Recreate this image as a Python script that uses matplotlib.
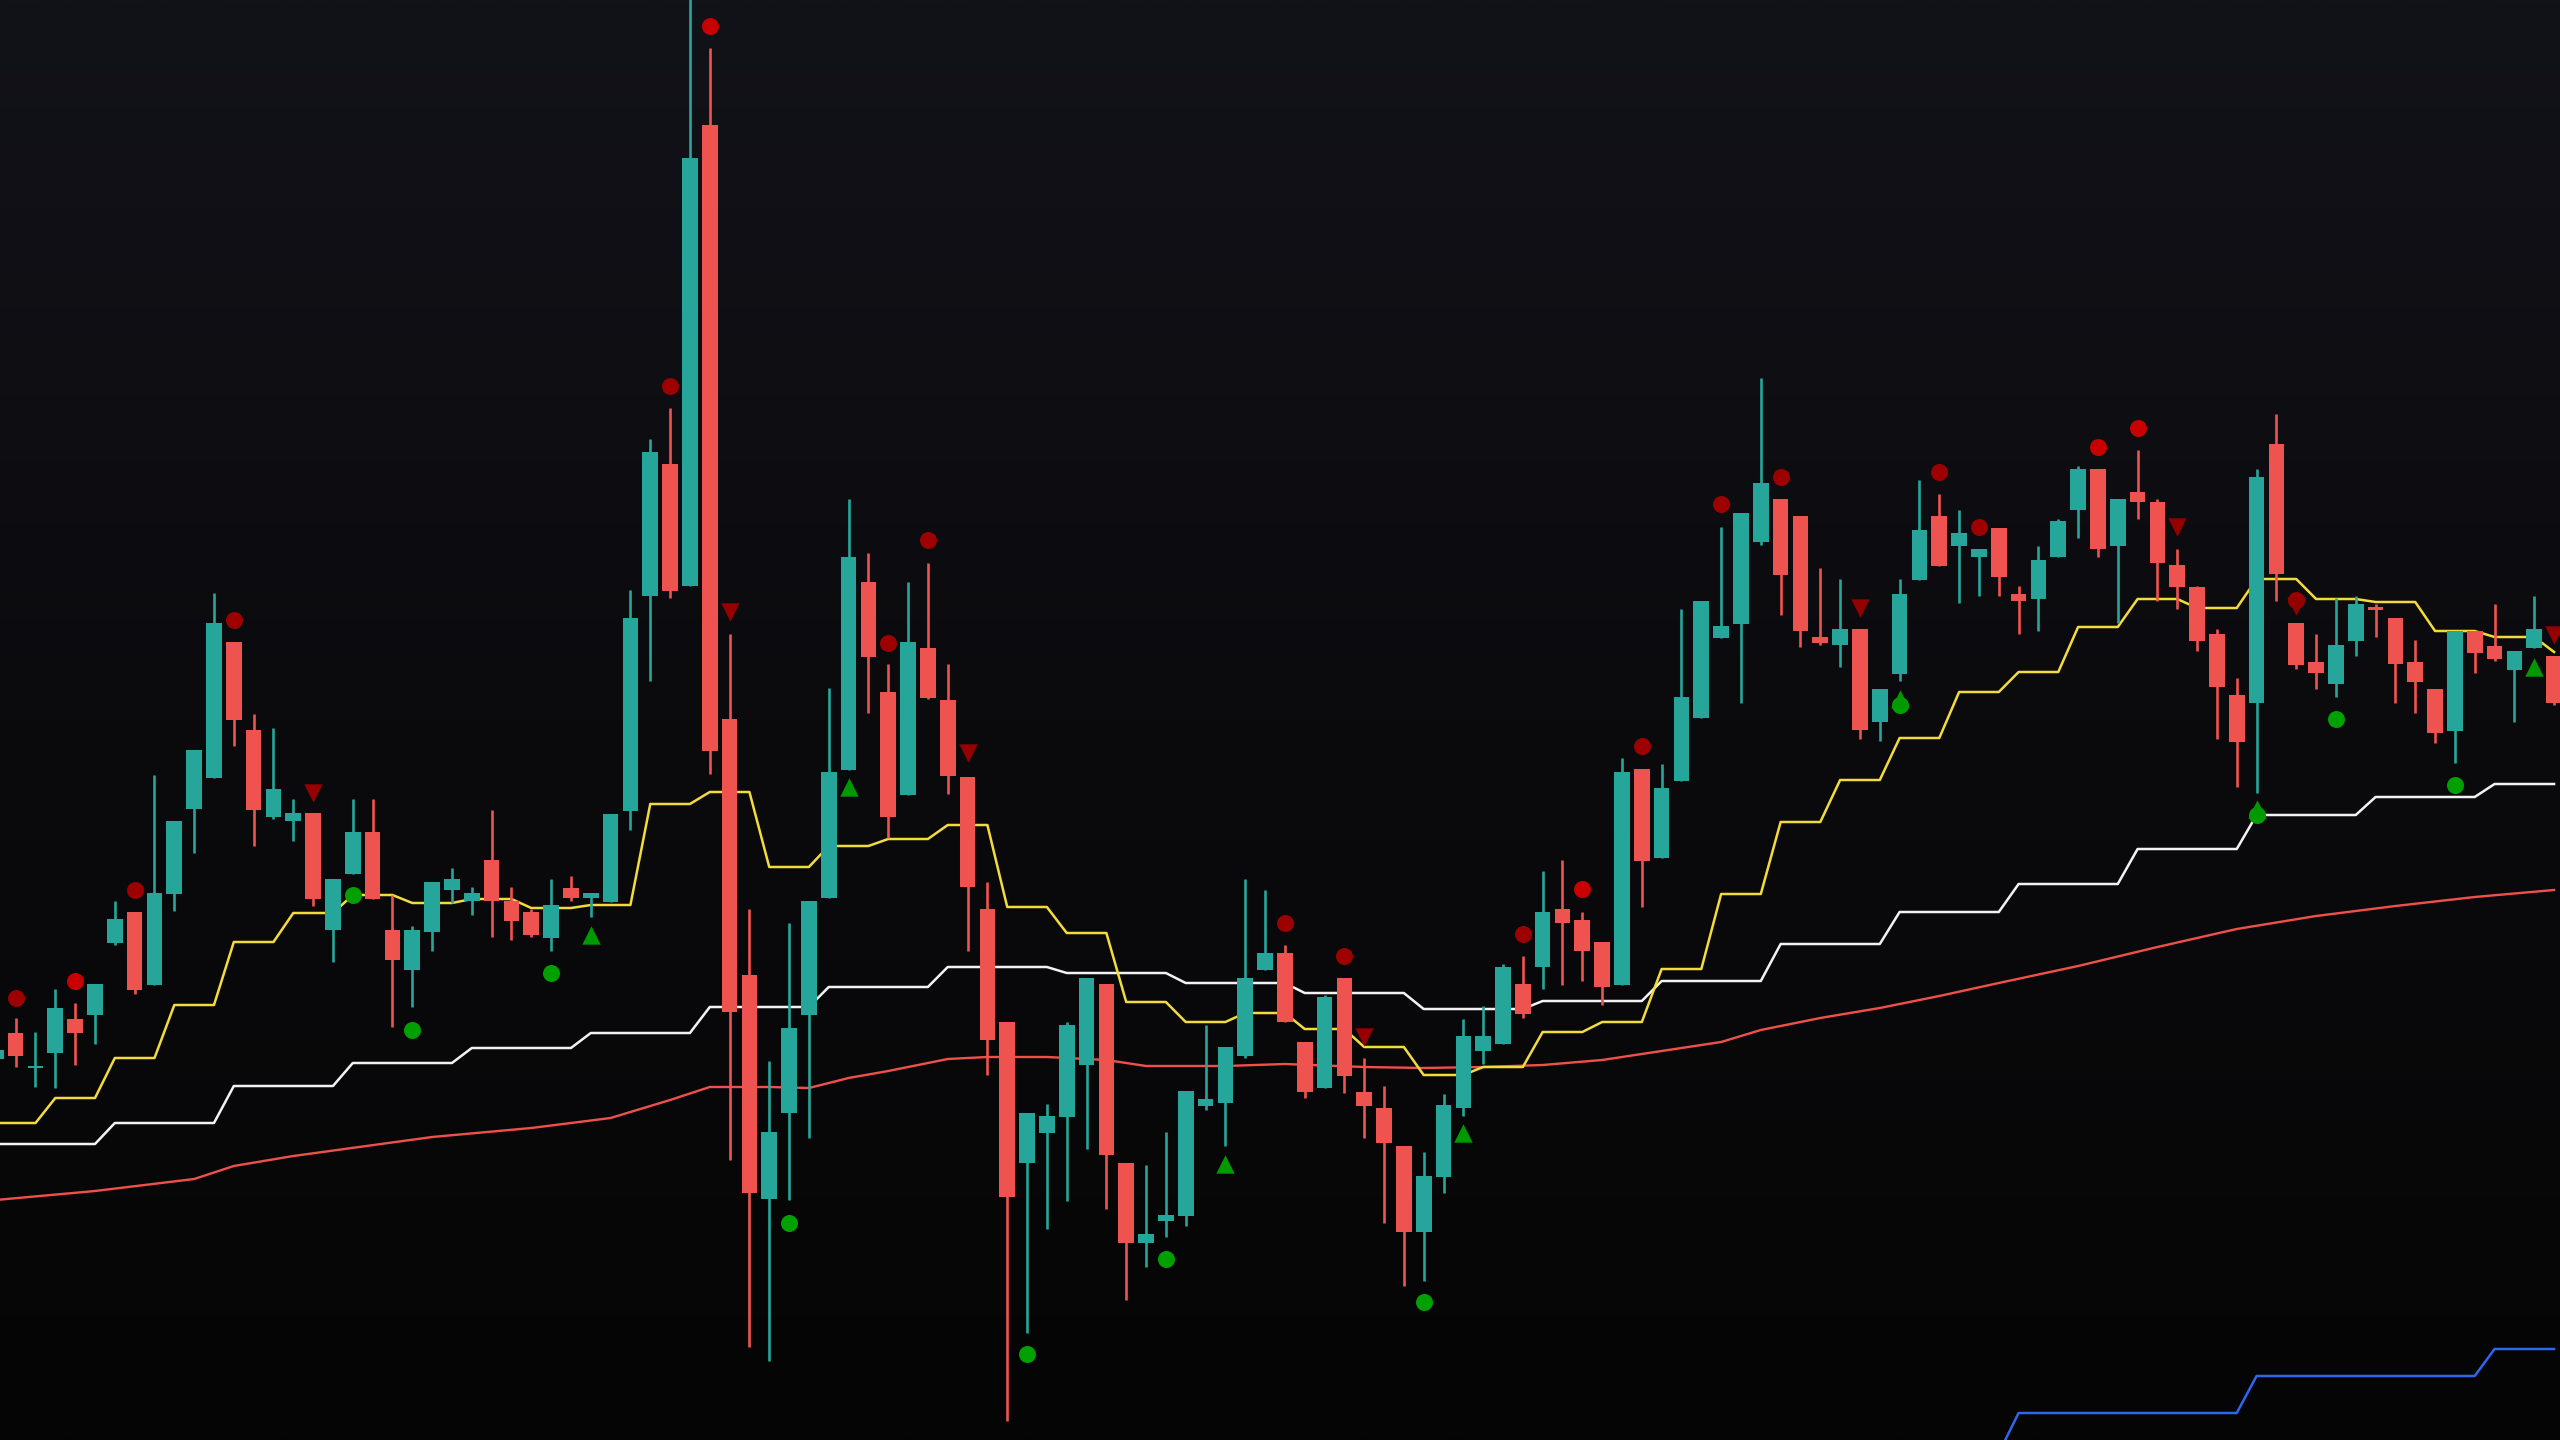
import numpy as np
import matplotlib
matplotlib.use("Agg")
import matplotlib.pyplot as plt
from matplotlib.colors import LinearSegmentedColormap

# ---------------- data (bar index, OHLC in arbitrary price units) ----------------
bars = list(range(-1, 129))

opens = [381, 407, 372, 387, 421, 425, 497, 528, 455, 546,
         631, 662, 798, 710, 623, 619, 627, 510, 566, 608,
         510, 470, 508, 550, 539, 580, 539, 528, 502, 552,
         542, 538, 629, 844, 976, 854, 1315, 721, 465, 241,
         327, 425, 542, 670, 858, 748, 645, 792, 740, 663,
         531, 418, 277, 307, 323, 375, 456, 277, 197, 219,
         224, 334, 337, 384, 470, 487, 398, 352, 462, 348,
         332, 294, 208, 263, 332, 389, 396, 456, 473, 531,
         520, 498, 455, 671, 582, 659, 722, 802, 816, 898,
         941, 924, 803, 795, 811, 718, 766, 860, 924, 894,
         883, 912, 846, 841, 883, 930, 971, 894, 948, 938,
         875, 853, 806, 745, 737, 996, 817, 778, 756, 799,
         833, 822, 778, 751, 709, 809, 794, 770, 792, 784]

highs = [395, 422, 408, 451, 437, 456, 539, 528, 665, 619,
         690, 847, 798, 726, 712, 641, 627, 561, 641, 641,
         545, 514, 558, 572, 553, 630, 553, 531, 561, 564,
         547, 626, 850, 1001, 1032, 1450, 1392, 806, 531, 379,
         517, 539, 752, 941, 887, 776, 858, 877, 776, 663,
         558, 418, 327, 336, 418, 462, 456, 277, 275, 308,
         349, 415, 393, 561, 550, 495, 398, 445, 462, 382,
         354, 294, 288, 346, 421, 434, 476, 484, 569, 580,
         528, 498, 682, 671, 676, 831, 839, 913, 927, 1062,
         941, 924, 872, 861, 811, 751, 861, 960, 946, 930,
         891, 912, 854, 894, 921, 974, 971, 941, 990, 941,
         891, 854, 811, 762, 971, 1026, 817, 806, 842, 844,
         836, 822, 800, 751, 809, 809, 836, 789, 844, 784]

lows = [378, 373, 353, 352, 375, 396, 495, 446, 455, 529,
        587, 662, 694, 594, 621, 599, 534, 478, 566, 541,
        413, 433, 489, 537, 525, 503, 500, 503, 489, 539,
        523, 538, 610, 759, 842, 854, 666, 280, 93, 79,
        240, 302, 542, 670, 727, 602, 645, 741, 646, 489,
        365, 19, 107, 211, 239, 291, 231, 140, 173, 203,
        214, 330, 294, 382, 470, 418, 342, 352, 347, 302,
        217, 154, 159, 247, 324, 376, 396, 422, 451, 455,
        459, 435, 455, 533, 582, 659, 722, 802, 737, 895,
        825, 793, 795, 773, 701, 699, 759, 860, 874, 837,
        844, 844, 806, 809, 883, 902, 883, 817, 921, 839,
        831, 789, 701, 653, 647, 839, 771, 751, 743, 784,
        803, 737, 727, 697, 677, 767, 779, 718, 792, 735]

closes = [390, 384, 374, 432, 407, 456, 521, 450, 547, 619,
          690, 817, 720, 630, 651, 627, 541, 561, 608, 541,
          480, 510, 558, 561, 547, 539, 519, 505, 535, 542,
          547, 626, 822, 988, 849, 1282, 689, 428, 247, 308,
          412, 539, 668, 883, 783, 623, 798, 742, 664, 553,
          400, 243, 327, 324, 415, 462, 285, 197, 206, 225,
          349, 341, 393, 462, 487, 418, 348, 443, 364, 334,
          297, 208, 264, 335, 404, 404, 473, 426, 528, 517,
          489, 453, 668, 579, 652, 743, 839, 814, 927, 957,
          865, 809, 797, 811, 710, 751, 846, 910, 874, 907,
          891, 863, 839, 880, 919, 971, 891, 941, 938, 877,
          853, 799, 753, 698, 963, 866, 775, 767, 795, 836,
          830, 776, 758, 707, 809, 787, 781, 789, 811, 737]

# fast step line (yellow)
yellow_line = [317, 317, 317, 342, 342, 342, 382, 382, 382, 435, 435, 435,
               498, 498, 498, 527, 527, 527, 545, 545, 545, 537, 537, 537,
               541, 541, 541, 532, 532, 532, 535, 535, 535, 636, 636, 636,
               648, 648, 648, 573, 573, 573, 594, 594, 594, 601, 601, 601,
               615, 615, 615, 533, 533, 533, 507, 507, 507, 438, 438, 438,
               418, 418, 418, 427, 427, 427, 411, 411, 411, 393, 393, 393,
               365, 365, 365, 373, 373, 373, 408, 408, 408, 418, 418, 418,
               471, 471, 471, 546, 546, 546, 618, 618, 618, 660, 660, 660,
               702, 702, 702, 748, 748, 748, 768, 768, 768, 813, 813, 813,
               841, 841, 841, 832, 832, 832, 861, 861, 861, 841, 841, 841,
               838, 838, 838, 809, 809, 809, 803, 803, 803, 788]

# slower step line (white)
white_line = [296, 296, 296, 296, 296, 296, 317, 317, 317, 317, 317, 317,
              354, 354, 354, 354, 354, 354, 377, 377, 377, 377, 377, 377,
              392, 392, 392, 392, 392, 392, 407, 407, 407, 407, 407, 407,
              433, 433, 433, 433, 433, 433, 453, 453, 453, 453, 453, 453,
              473, 473, 473, 473, 473, 473, 467, 467, 467, 467, 467, 467,
              457, 457, 457, 457, 457, 457, 447, 447, 447, 447, 447, 447,
              431, 431, 431, 431, 431, 431, 439, 439, 439, 439, 439, 439,
              459, 459, 459, 459, 459, 459, 496, 496, 496, 496, 496, 496,
              528, 528, 528, 528, 528, 528, 556, 556, 556, 556, 556, 556,
              591, 591, 591, 591, 591, 591, 625, 625, 625, 625, 625, 625,
              643, 643, 643, 643, 643, 643, 656, 656, 656, 656]

# slowest step line (blue), visible only on the right
blue_bars = list(range(100, 129))
blue_line = [-13, 27, 27, 27, 27, 27, 27, 27, 27, 27, 27, 27, 27,
             64, 64, 64, 64, 64, 64, 64, 64, 64, 64, 64, 64,
             91, 91, 91, 91]

# smooth moving average (red)
ma_bars = [-1, 4, 9, 11, 14, 21, 26, 30, 33, 35, 38, 40, 42, 44, 47, 49, 52,
           55, 57, 61, 64, 68, 71, 74, 77, 80, 82, 86, 88, 91, 94, 97, 100,
           104, 108, 112, 116, 120, 124, 128]
ma_vals = [240, 249, 261, 274, 284, 303, 312, 322, 340, 353, 353, 352, 362,
           369, 381, 383, 383, 380, 374, 374, 376, 373, 372, 373, 375, 380,
           386, 398, 410, 422, 432, 444, 457, 474, 493, 511, 524, 534, 543, 550]

# signal markers
red_dot_dark_bars = [0, 6, 11, 33, 44, 46, 64, 67, 76, 82, 86, 89, 97, 99, 115]
red_dot_dark_vals = [442, 550, 820, 1054, 797, 900, 517, 484, 506, 694, 936,
                     963, 968, 913, 840]
red_dot_bright_bars = [3, 35, 79, 105, 107]
red_dot_bright_vals = [459, 1414, 551, 993, 1012]
red_tri_bars = [15, 36, 48, 68, 93, 109, 115, 128]
red_tri_vals = [647, 828, 687, 403, 832, 913, 834, 805]
green_dot_bars = [17, 20, 27, 39, 51, 58, 71, 95, 113, 117, 123]
green_dot_vals = [545, 410, 467, 217, 86, 181, 138, 735, 625, 721, 655]
green_tri_bars = [29, 42, 61, 73, 95, 113, 127]
green_tri_vals = [505, 653, 276, 307, 741, 631, 773]

assert len(opens) == len(highs) == len(lows) == len(closes) == len(bars)
assert len(yellow_line) == len(bars) and len(white_line) == len(bars)
assert len(blue_line) == len(blue_bars) and len(ma_bars) == len(ma_vals)

# ---------------- figure ----------------
UP = "#26a69a"
DOWN = "#ef5350"

fig = plt.figure(figsize=(25.6, 14.4), dpi=100)
ax = fig.add_axes([0, 0, 1, 1])
x0, x1 = -0.79, 128.3
y0, y1 = 0, 1440
ax.set_xlim(x0, x1)
ax.set_ylim(y0, y1)
ax.axis("off")

# background gradient
bg = LinearSegmentedColormap.from_list("bg", ["#121219", "#0b0b0e", "#050505"])
grad = np.linspace(0, 1, 512).reshape(-1, 1)
ax.imshow(grad, cmap=bg, extent=[x0, x1, y0, y1], aspect="auto",
          origin="upper", zorder=0, interpolation="bicubic")
fig.patch.set_facecolor("#0b0b0e")

# indicator lines
ax.plot(ma_bars, ma_vals, color="#f0504a", lw=1.7, zorder=2, solid_joinstyle="round")
ax.plot(bars, white_line, color="#f2f2f2", lw=1.8, zorder=2)
ax.plot(bars, yellow_line, color="#f2dc3c", lw=1.8, zorder=2)
ax.plot(blue_bars, blue_line, color="#2d66f0", lw=1.8, zorder=2)

# candles
o = np.array(opens, float)
h = np.array(highs, float)
l = np.array(lows, float)
c = np.array(closes, float)
xb = np.array(bars, float)
colors = [UP if cc >= oo else DOWN for oo, cc in zip(o, c)]
ax.vlines(xb, l, h, colors=colors, lw=1.9, zorder=3)
body_lo = np.minimum(o, c)
body_h = np.maximum(np.abs(c - o), 2.5)
ax.bar(xb, body_h, bottom=body_lo, width=0.79, color=colors, linewidth=0,
       zorder=4)

# markers
ax.scatter(red_dot_dark_bars, red_dot_dark_vals, s=150, color="#9c0000",
           linewidths=0, zorder=5)
ax.scatter(red_dot_bright_bars, red_dot_bright_vals, s=150, color="#c80000",
           linewidths=0, zorder=5)
ax.scatter(red_tri_bars, red_tri_vals, s=175, marker="v", color="#950000",
           linewidths=0, zorder=5)
ax.scatter(green_dot_bars, green_dot_vals, s=150, color="#00a000",
           linewidths=0, zorder=5)
ax.scatter(green_tri_bars, green_tri_vals, s=175, marker="^", color="#009a00",
           linewidths=0, zorder=5)

fig.savefig("out.png", dpi=100, facecolor=fig.get_facecolor())
